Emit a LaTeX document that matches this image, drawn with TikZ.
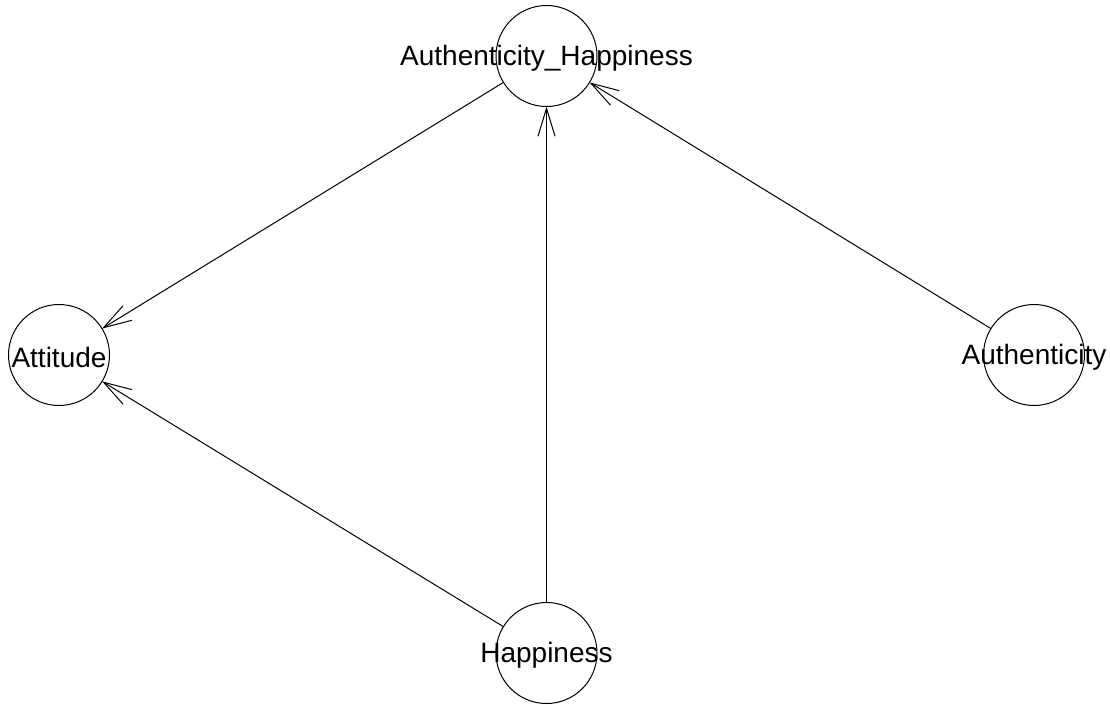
\documentclass[tikz,border=0pt]{standalone}
\usepackage{fontspec}
\setmainfont{Liberation Sans}
\usetikzlibrary{arrows.meta}
\tikzset{
  vnode/.style={circle, draw, line width=1pt, minimum size=101pt, inner sep=0pt, outer sep=0pt},
  vlabel/.style={font=\fontsize{28}{30}\selectfont, yshift=-2pt},
  edge/.style={line width=1pt, -{Straight Barb[length=28pt, width=17pt, line width=1pt]}, shorten >=0pt}
}
\begin{document}
\begin{tikzpicture}[x=1pt, y=-1pt]
\useasboundingbox (0,0) rectangle (1110,704);
\node[vnode, label={[vlabel]center:Authenticity\_Happiness}] (ah) at (546.5,56) {};
\node[vnode, label={[vlabel]center:Attitude}] (att) at (59,355) {};
\node[vnode, label={[vlabel]center:Authenticity}] (auth) at (1034,355) {};
\node[vnode, label={[vlabel]center:Happiness}] (hap) at (546.5,653) {};
\draw[edge] (ah) -- (att);
\draw[edge] (hap) -- (att);
\draw[edge] (hap) -- (ah);
\draw[edge] (auth) -- (ah);
\end{tikzpicture}
\end{document}
